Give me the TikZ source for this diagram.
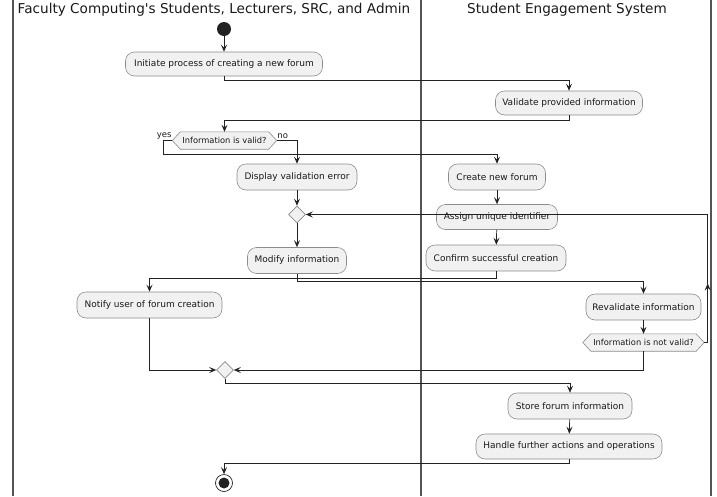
\documentclass[tikz,border=0pt]{standalone}
\usepackage{fontspec}
\setmainfont{DejaVu Sans}
\usetikzlibrary{arrows.meta,shapes.geometric,backgrounds}
\definecolor{boxfill}{HTML}{F1F1F1}
\definecolor{boxdraw}{HTML}{8C8C8C}
\definecolor{linecol}{HTML}{222222}
\definecolor{lanecol}{HTML}{555555}
\tikzset{
  actbox/.style={draw=boxdraw, fill=boxfill, line width=0.6pt, rounded corners=9pt,
     inner sep=0pt, font=\fontsize{9}{11}\selectfont, text=black!90},
  decnode/.style={inner sep=0pt, font=\fontsize{8.3}{10}\selectfont, text=black!90},
  mergenode/.style={diamond, draw=boxdraw, fill=boxfill, line width=0.6pt, inner sep=0pt,
     minimum width=17pt, minimum height=17pt},
  flow/.style={draw=linecol, line width=0.7pt, -{Stealth[length=7pt,width=6pt,inset=2.8pt]}},
  lane/.style={draw=lanecol, line width=1.4pt},
  lanetitle/.style={font=\fontsize{13.6}{16}\selectfont, text=black!90, inner sep=0pt},
  lbl/.style={font=\fontsize{8.5}{10}\selectfont, inner sep=0.5pt, text=black!90},
}
\begin{document}
\begin{tikzpicture}[x=1pt,y=-1pt]
\useasboundingbox (0,0) rectangle (717,496);
% swimlanes
\draw[lane] (13,0) -- (13,496);
\draw[lane] (421,0) -- (421,496);
\draw[lane] (711,0) -- (711,496);
\node[lanetitle] (t1) at (214,10) {Faculty Computing\textquotesingle s Students, Lecturers, SRC, and Admin};
\node[lanetitle] (t2) at (567,10) {Student Engagement System};

% start
\node[circle, fill=linecol, minimum size=14pt, inner sep=0pt] (start) at (224,29) {};
% activities
\node[actbox, minimum width=197pt, minimum height=24pt] (init) at (224,64) {Initiate process of creating a new forum};
\node[actbox, minimum width=147pt, minimum height=24pt] (val) at (569,103) {Validate provided information};
\node[decnode, minimum width=104pt, minimum height=17pt] (dec1) at (224.5,140.5) {Information is valid?};
\node[actbox, minimum width=97pt, minimum height=26pt] (create) at (497,177) {Create new forum};
\node[actbox, minimum width=120pt, minimum height=26pt] (disp) at (297,177) {Display validation error};
\node[mergenode] (m1) at (297,214.5) {};
\node[actbox, minimum width=121pt, minimum height=25pt] (assign) at (497,217) {Assign unique identifier};
\node[actbox, minimum width=140pt, minimum height=26pt] (conf) at (496,258) {Confirm successful creation};
\node[actbox, minimum width=99pt, minimum height=26pt] (mod) at (297,260.5) {Modify information};
\node[actbox, minimum width=145pt, minimum height=26pt] (notify) at (149.5,305) {Notify user of forum creation};
\node[actbox, minimum width=115pt, minimum height=26pt] (reval) at (643.5,307) {Revalidate information};
\node[decnode, minimum width=121pt, minimum height=17pt] (dec2) at (643.5,342.5) {Information is not valid?};
\node[mergenode] (m2) at (225,370) {};
\node[actbox, minimum width=124pt, minimum height=26pt] (store) at (570,406) {Store forum information};
\node[actbox, minimum width=186pt, minimum height=25pt] (handle) at (569,446.5) {Handle further actions and operations};
% end
\node[circle, draw=linecol, fill=white, line width=0.7pt, minimum size=17pt, inner sep=0pt] (endc) at (224,483) {};
\node[circle, fill=linecol, minimum size=11pt, inner sep=0pt] (endin) at (endc.center) {};

% hexagons behind decision texts
\begin{scope}[on background layer]
\foreach \d in {dec1,dec2}{
  \draw[draw=boxdraw, fill=boxfill, line width=0.6pt]
    (\d.west) -- ([xshift=8pt]\d.north west) -- ([xshift=-8pt]\d.north east) --
    (\d.east) -- ([xshift=-8pt]\d.south east) -- ([xshift=8pt]\d.south west) -- cycle;
}
\end{scope}

% labels
\node[lbl, anchor=south east] (yes) at ([yshift=1pt]dec1.west) {yes};
\node[lbl, anchor=south west] (no) at ([yshift=1pt]dec1.east) {no};

% connectors
\draw[flow] (start) -- (init);
\draw[flow] (init.south) -- ++(0,4) -| (val.north);
\draw[flow] (val.south) -- ++(0,5) -| (dec1.north);
\draw[flow] (dec1.west) -- ++(-9,0) -- ++(0,13.5) -| (create.north);
\draw[flow] (dec1.east) -| (disp.north);
\draw[flow] (disp) -- (m1);
\draw[flow] (create) -- (assign);
\draw[flow] (assign) -- (conf);
\draw[flow] (m1) -- (mod);
\draw[flow] (conf.south) -- ++(0,7) -| (notify.north);
\draw[flow] (mod.south) -- ++(0,7.5) -| (reval.north);
\draw[flow] (reval) -- (dec2);
\draw[flow] (dec2.east) -- ++(3.5,0) -- ++(0,-59) coordinate (loopmid);
\draw[flow] (loopmid) |- (m1.east);
\draw[flow] (dec2.south) |- (m2.east);
\draw[flow] (notify.south) |- (m2.west);
\draw[flow] (m2.south) -- ++(0,5) -| (store.north);
\draw[flow] (store) -- (handle);
\draw[flow] (handle.south) -- ++(0,4) -| (endc.north);
\end{tikzpicture}
\end{document}
